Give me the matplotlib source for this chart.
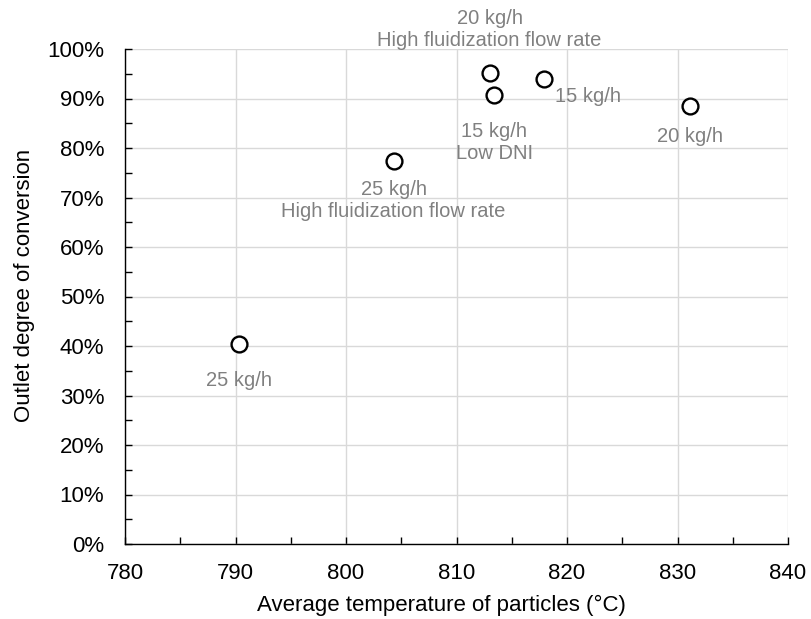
import matplotlib
matplotlib.use("Agg")
import matplotlib.pyplot as plt
from matplotlib.ticker import MultipleLocator, PercentFormatter

plt.rcParams['font.family'] = ['Liberation Sans', 'DejaVu Sans']

temps = [790.3, 804.3, 813.0, 813.4, 817.9, 831.1]
conv = [40.4, 77.4, 95.2, 90.7, 93.9, 88.5]
labels = ["25 kg/h", "25 kg/h\nHigh fluidization flow rate", "20 kg/h\nHigh fluidization flow rate",
          "15 kg/h\nLow DNI", "15 kg/h", "20 kg/h"]
# offsets in pixels (dx, dy) and alignment
offsets = [(0, -36), (0, -40), (0, 43), (0, -47), (11, -17), (0, -31)]
has = ['center', 'center', 'center', 'center', 'left', 'center']

fig = plt.figure(figsize=(8.12, 6.19), dpi=100)
ax = fig.add_axes([125/812, 1-544/619, (788-125)/812, (544-49)/619])

ax.scatter(temps, conv, s=130, facecolors='white', edgecolors='black', linewidths=1.7, zorder=3)

for x, y, lab, off, ha in zip(temps, conv, labels, offsets, has):
    ax.annotate(lab, (x, y), xytext=off, textcoords='offset pixels', ha=ha, va='center',
                color='#808080', fontsize=14.5, linespacing=1.2, annotation_clip=False)

ax.set_xlim(780, 840)
ax.set_ylim(0, 100)
ax.xaxis.set_major_locator(MultipleLocator(10))
ax.xaxis.set_minor_locator(MultipleLocator(5))
ax.yaxis.set_major_locator(MultipleLocator(10))
ax.yaxis.set_minor_locator(MultipleLocator(5))
ax.yaxis.set_major_formatter(PercentFormatter(decimals=0))
ax.grid(True, which='major', color='#d9d9d9', linewidth=1)
ax.set_axisbelow(True)
for s in ['top', 'right']:
    ax.spines[s].set_visible(False)
for s in ['left', 'bottom']:
    ax.spines[s].set_color('black')
    ax.spines[s].set_linewidth(1)
ax.tick_params(which='both', direction='in', length=5, width=1, labelsize=16, colors='black')
ax.tick_params(axis='x', pad=14)
ax.tick_params(axis='y', pad=15)
ax.set_xlabel("Average temperature of particles (°C)", fontsize=16, va='center')
ax.xaxis.set_label_coords(0.477, -0.125)
ax.set_ylabel("Outlet degree of conversion", fontsize=16, va='center')
ax.yaxis.set_label_coords(-0.152, 0.523)

fig.savefig("out.png", dpi=100)
